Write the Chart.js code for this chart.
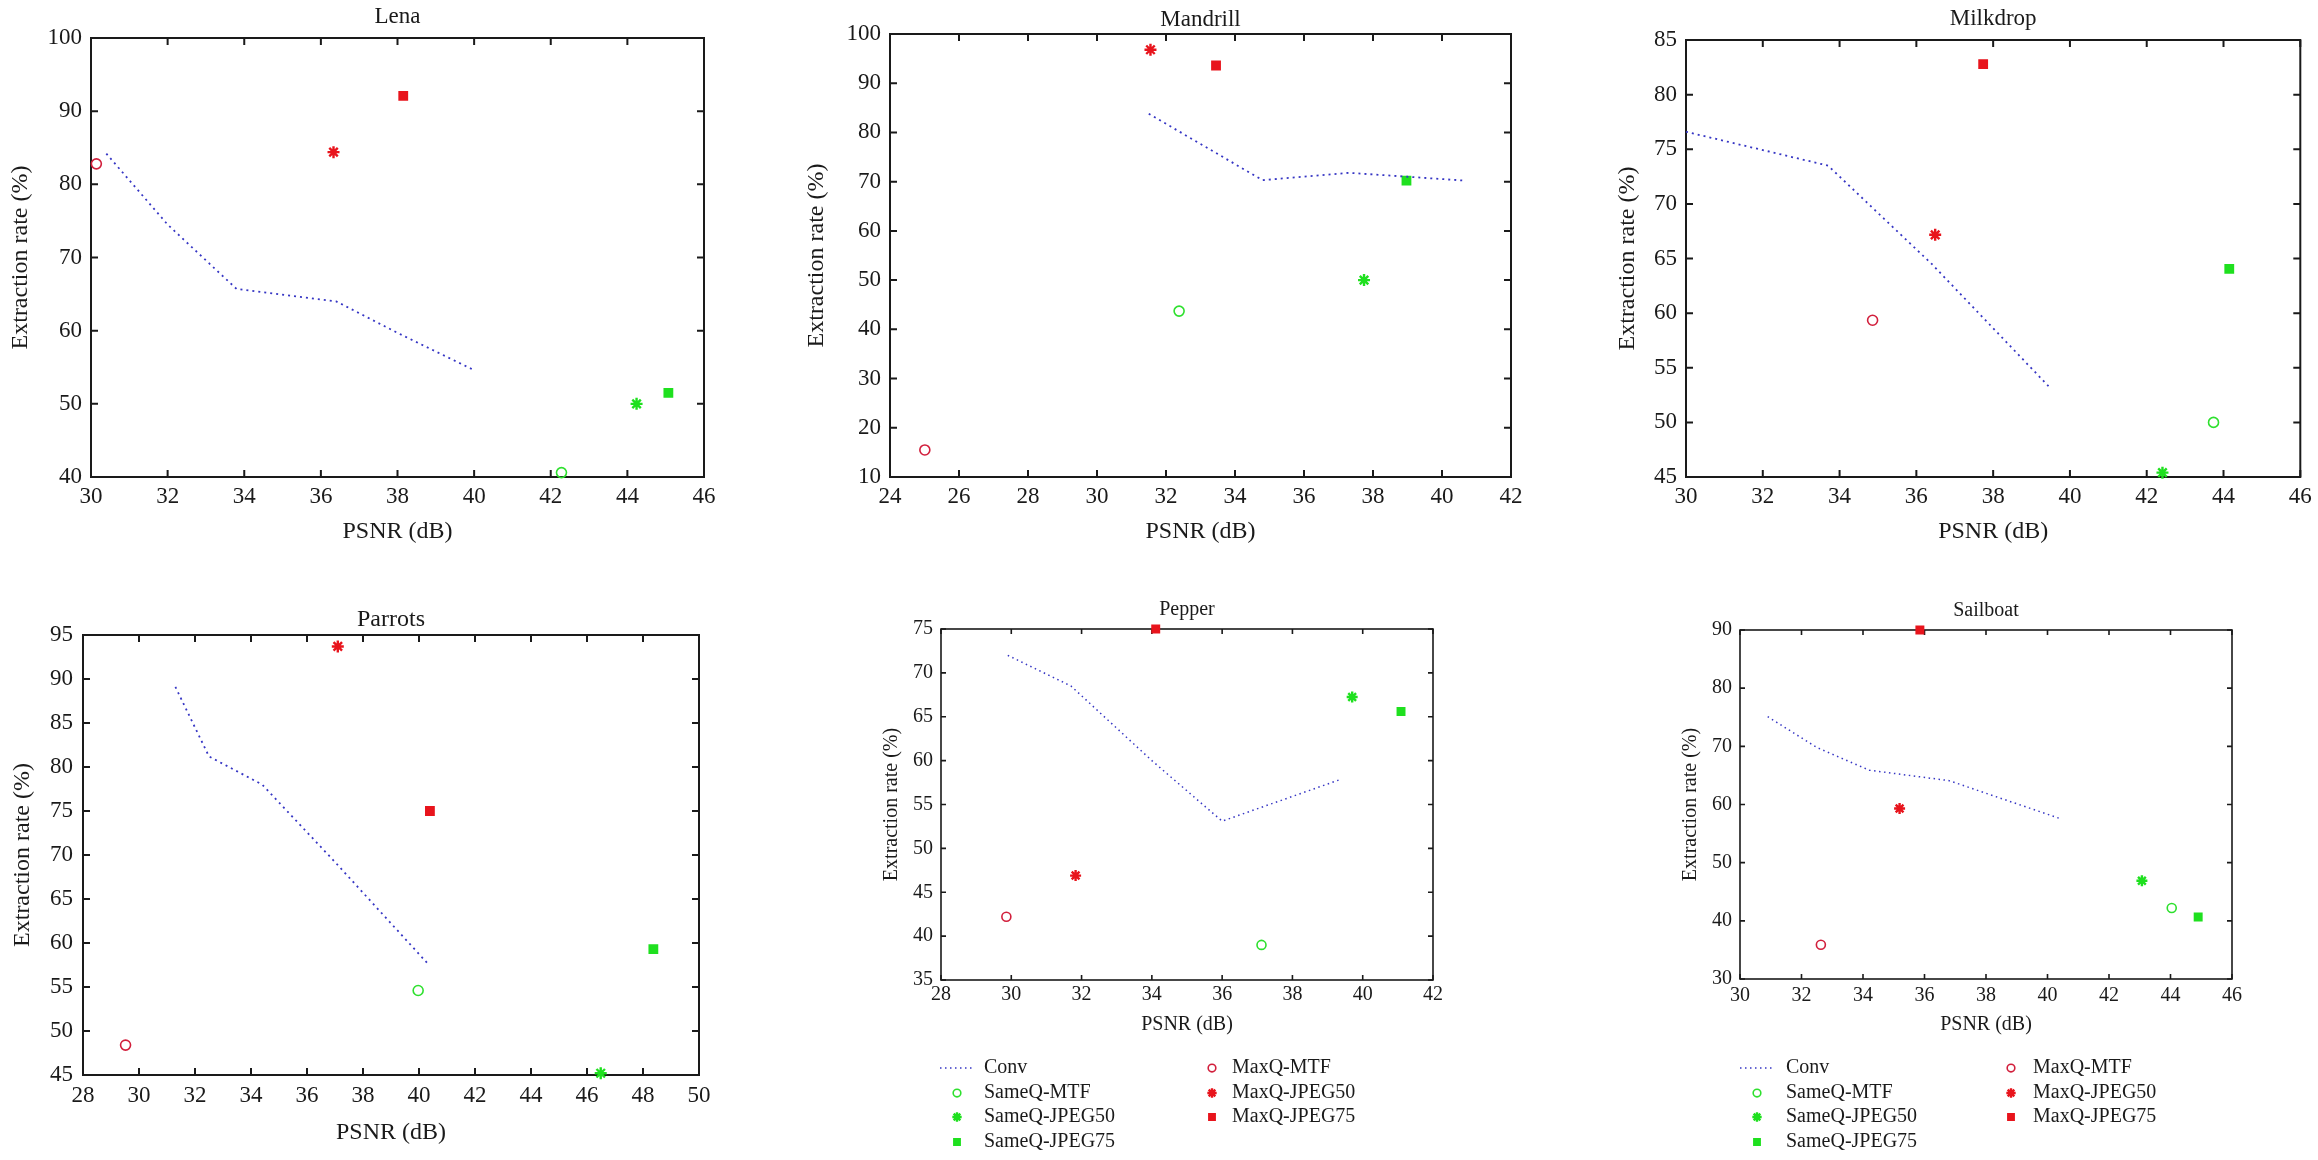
<!DOCTYPE html>
<html>
<head>
<meta charset="utf-8">
<title>Extraction rate vs PSNR</title>
<script src="https://cdn.jsdelivr.net/npm/chart.js"></script>
<style>
  html, body { margin: 0; padding: 0; background: #fff; overflow: hidden; }
  #page { position: relative; width: 2318px; height: 1160px; }
  #page canvas { position: absolute; }
</style>
</head>
<body>
<div id="page"></div>
<script>
// series shown in every panel (legend order: left column 0-3, right column 4-6)
const seriesNames = ['Conv', 'SameQ-MTF', 'SameQ-JPEG50', 'SameQ-JPEG75', 'MaxQ-MTF', 'MaxQ-JPEG50', 'MaxQ-JPEG75'];

// Conv curve per image: PSNR (dB) and extraction rate (%)
const lenaConvPsnr = [30.4, 32.0, 33.8, 36.4, 38.0, 40.0];
const lenaConvRate = [84.2, 74.5, 65.7, 64.0, 59.7, 54.6];
const mandrillConvPsnr = [31.5, 34.8, 37.3, 39.0, 40.7];
const mandrillConvRate = [83.8, 70.3, 71.8, 71.0, 70.2];
const milkdropConvPsnr = [30.0, 33.7, 36.4, 39.5];
const milkdropConvRate = [76.6, 73.5, 64.5, 53.1];
const parrotsConvPsnr = [31.3, 32.5, 34.4, 37.0, 40.3];
const parrotsConvRate = [89.1, 81.2, 78.0, 69.2, 57.7];
const pepperConvPsnr = [29.9, 31.7, 34.0, 36.0, 39.4];
const pepperConvRate = [72.0, 68.5, 60.0, 53.1, 57.9];
const sailboatConvPsnr = [30.9, 32.5, 34.2, 36.8, 40.4];
const sailboatConvRate = [75.1, 69.8, 65.9, 64.1, 57.6];

// single results, in seriesNames order without Conv
// SameQ-MTF, SameQ-JPEG50, SameQ-JPEG75, MaxQ-MTF, MaxQ-JPEG50, MaxQ-JPEG75
const lenaPsnr = [42.28, 44.24, 45.07, 30.14, 36.33, 38.15];
const lenaRate = [40.6, 50.0, 51.5, 82.8, 84.4, 92.1];
const mandrillPsnr = [32.38, 37.74, 38.97, 25.01, 31.55, 33.45];
const mandrillRate = [43.7, 50.0, 70.2, 15.5, 96.8, 93.6];
const milkdropPsnr = [43.74, 42.41, 44.15, 34.86, 36.49, 37.74];
const milkdropRate = [50.0, 45.4, 64.05, 59.35, 67.17, 82.8];
const parrotsPsnr = [39.97, 46.49, 48.37, 29.52, 37.1, 40.39];
const parrotsRate = [54.6, 45.2, 59.3, 48.4, 93.7, 75.0];
const pepperPsnr = [37.12, 39.7, 41.09, 29.86, 31.83, 34.11];
const pepperRate = [39.0, 67.25, 65.6, 42.2, 46.9, 75.0];
const sailboatPsnr = [44.04, 43.07, 44.9, 32.63, 35.19, 35.85];
const sailboatRate = [42.2, 46.9, 40.65, 35.9, 59.3, 90.0];

// axis ticks: [min, max, step]
const lenaXTicks = [30, 46, 2], lenaYTicks = [40, 100, 10];
const mandrillXTicks = [24, 42, 2], mandrillYTicks = [10, 100, 10];
const milkdropXTicks = [30, 46, 2], milkdropYTicks = [45, 85, 5];
const parrotsXTicks = [28, 50, 2], parrotsYTicks = [45, 95, 5];
const pepperXTicks = [28, 42, 2], pepperYTicks = [35, 75, 5];
const sailboatXTicks = [30, 46, 2], sailboatYTicks = [30, 90, 10];

const styles = [
  { color: '#3636c4' },
  { color: '#2ee02e', point: 'circle', fill: false },
  { color: '#1fe01f', point: 'star' },
  { color: '#1fe01f', point: 'rect', fill: true },
  { color: '#d21f3c', point: 'circle', fill: false },
  { color: '#e8141c', point: 'star' },
  { color: '#e8141c', point: 'rect', fill: true }
];

Chart.defaults.font.family = '"Liberation Serif", "Times New Roman", serif';
Chart.defaults.color = '#1a1a1a';

const page = document.getElementById('page');

function frame(tick, width) {
  return {
    id: 'frame',
    beforeDatasetsDraw(chart) {
      const { ctx, chartArea: a, scales: { x, y } } = chart;
      ctx.save();
      ctx.strokeStyle = '#1a1a1a';
      ctx.lineWidth = width;
      ctx.setLineDash([]);
      ctx.beginPath();
      x.ticks.forEach(t => {
        const px = x.getPixelForValue(t.value);
        ctx.moveTo(px, a.bottom); ctx.lineTo(px, a.bottom - tick);
        ctx.moveTo(px, a.top); ctx.lineTo(px, a.top + tick);
      });
      y.ticks.forEach(t => {
        const py = y.getPixelForValue(t.value);
        ctx.moveTo(a.left, py); ctx.lineTo(a.left + tick, py);
        ctx.moveTo(a.right, py); ctx.lineTo(a.right - tick, py);
      });
      ctx.stroke();
      ctx.strokeRect(a.left, a.top, a.right - a.left, a.bottom - a.top);
      ctx.restore();
    }
  };
}

// two-column legend under the panel (column-first like the original)
function columnLegend(g, size, shrink) {
  return {
    id: 'columnLegend',
    afterDraw(chart) {
      const ctx = chart.ctx;
      ctx.save();
      ctx.font = size + 'px "Liberation Serif", serif';
      ctx.textBaseline = 'middle';
      chart.data.datasets.forEach((ds, i) => {
        const col = i < 4 ? 0 : 1;
        const y = g.rows[i < 4 ? i : i - 4];
        if (ds.showLine) {
          ctx.strokeStyle = ds.borderColor;
          ctx.lineWidth = ds.borderWidth;
          ctx.setLineDash(ds.borderDash);
          ctx.beginPath();
          ctx.moveTo(g.sample[0], y);
          ctx.lineTo(g.sample[1], y);
          ctx.stroke();
          ctx.setLineDash([]);
        } else {
          ctx.strokeStyle = ds.pointBorderColor;
          ctx.fillStyle = ds.pointBackgroundColor;
          ctx.lineWidth = ds.pointBorderWidth;
          Chart.helpers.drawPoint(ctx, {
            pointStyle: ds.pointStyle, rotation: 0,
            radius: ds.pointRadius * shrink, borderWidth: ds.pointBorderWidth
          }, g.marker[col], y);
        }
        ctx.fillStyle = '#1a1a1a';
        ctx.fillText(ds.label, g.text[col], y);
      });
      ctx.restore();
    }
  };
}

function plot(title, spec, convX, convY, ptsX, ptsY, xt, yt) {
  const [L, T, R, B] = spec.box;
  const f = spec.font;
  const lhT = f.title * 1.2, lhA = f.axis * 1.2, lhK = f.tick * 1.2;
  const left = Math.round(spec.yTitleX - lhA / 2);
  const top = Math.round(spec.titleY - lhT / 2);
  const yW = L - left;
  const xH = spec.xTitleY - B + lhA / 2;
  const width = Math.round(R + spec.padR - left);
  const height = Math.round((spec.bottom || Math.ceil(B + xH)) - top);
  const padR = width - (R - left);
  const padB = height - (B - top) - xH;

  const canvas = document.createElement('canvas');
  canvas.width = width;
  canvas.height = height;
  canvas.style.left = left + 'px';
  canvas.style.top = top + 'px';
  canvas.style.width = width + 'px';
  canvas.style.height = height + 'px';
  page.appendChild(canvas);

  const datasets = seriesNames.map((name, i) => {
    const st = styles[i];
    if (i === 0) {
      return {
        label: name,
        data: convX.map((x, k) => ({ x, y: convY[k] })),
        showLine: true, borderColor: st.color, borderWidth: spec.lineW,
        borderDash: spec.dash, pointRadius: 0, tension: 0, clip: false
      };
    }
    return {
      label: name,
      data: [{ x: ptsX[i - 1], y: ptsY[i - 1] }],
      pointStyle: st.point,
      pointRadius: spec.marker[st.point],
      pointBorderWidth: st.point === 'star' ? 2.4 : 1.6,
      pointBorderColor: st.color,
      pointBackgroundColor: st.fill ? st.color : 'rgba(0,0,0,0)',
      clip: false
    };
  });

  const plugins = [frame(spec.tick, spec.frameW)];
  if (spec.legend) {
    const g = spec.legend;
    plugins.push(columnLegend({
      rows: g.rows.map(v => v - top),
      sample: g.sample.map(v => v - left),
      marker: g.marker.map(v => v - left),
      text: g.text.map(v => v - left)
    }, g.size, 0.85));
  }

  new Chart(canvas, {
    type: 'scatter',
    data: { datasets },
    plugins,
    options: {
      responsive: false,
      animation: false,
      devicePixelRatio: 1,
      layout: { padding: { left: 0, top: 0, right: padR, bottom: padB } },
      plugins: {
        legend: { display: false },
        tooltip: { enabled: false },
        title: {
          display: true, text: title, fullSize: false, color: '#1a1a1a',
          font: { size: f.title, weight: 'normal', lineHeight: 1.2 },
          padding: { top: 0, bottom: T - top - lhT }
        }
      },
      scales: {
        x: {
          type: 'linear', min: xt[0], max: xt[1],
          ticks: { stepSize: xt[2], padding: spec.tickY - B - lhK / 2, maxRotation: 0, autoSkip: false, font: { size: f.tick } },
          grid: { display: false, drawTicks: false },
          border: { display: false },
          title: { display: true, text: 'PSNR (dB)', padding: 0, font: { size: f.axis } },
          afterFit: s => { s.height = xH; }
        },
        y: {
          type: 'linear', min: yt[0], max: yt[1],
          ticks: { stepSize: yt[2], padding: spec.yPad, autoSkip: false, font: { size: f.tick } },
          grid: { display: false, drawTicks: false },
          border: { display: false },
          title: { display: true, text: 'Extraction rate (%)', padding: 0, font: { size: f.axis } },
          afterFit: s => { s.width = yW; }
        }
      }
    }
  });
}

const big = { title: 23, tick: 23, axis: 24 };
const bigMarks = { circle: 5, star: 6, rect: 5.8 };
const small = { title: 20, tick: 20, axis: 20 };
const smallMarks = { circle: 4.5, star: 5.5, rect: 5.2 };
const rowsY = [1068, 1093, 1117, 1142];

plot('Lena', {
  box: [91, 38, 704, 477], titleY: 17, yTitleX: 20, xTitleY: 532, tickY: 497, yPad: 9,
  font: big, tick: 7, frameW: 2, padR: 30, lineW: 1.8, dash: [2, 4], marker: bigMarks
}, lenaConvPsnr, lenaConvRate, lenaPsnr, lenaRate, lenaXTicks, lenaYTicks);

plot('Mandrill', {
  box: [890, 34, 1511, 477], titleY: 20, yTitleX: 816, xTitleY: 532, tickY: 497, yPad: 9,
  font: big, tick: 7, frameW: 2, padR: 30, lineW: 1.8, dash: [2, 4], marker: bigMarks
}, mandrillConvPsnr, mandrillConvRate, mandrillPsnr, mandrillRate, mandrillXTicks, mandrillYTicks);

plot('Milkdrop', {
  box: [1686, 40, 2303, 477], titleY: 19, yTitleX: 1627, xTitleY: 532, tickY: 497, yPad: 9,
  font: big, tick: 7, frameW: 2, padR: 15, lineW: 1.8, dash: [2, 4], marker: bigMarks
}, milkdropConvPsnr, milkdropConvRate, milkdropPsnr, milkdropRate, milkdropXTicks, milkdropYTicks);

plot('Parrots', {
  box: [83, 635, 699, 1075], titleY: 619, yTitleX: 22, xTitleY: 1133, tickY: 1096, yPad: 10,
  font: { title: 24, tick: 23, axis: 24 }, tick: 7, frameW: 2, padR: 30, lineW: 1.8, dash: [2, 4], marker: bigMarks
}, parrotsConvPsnr, parrotsConvRate, parrotsPsnr, parrotsRate, parrotsXTicks, parrotsYTicks);

plot('Pepper', {
  box: [941, 629, 1433, 980], titleY: 610, yTitleX: 892, xTitleY: 1025, tickY: 995, yPad: 8,
  font: small, tick: 5, frameW: 1.6, padR: 30, lineW: 1.5, dash: [1.5, 3.5], marker: smallMarks,
  bottom: 1160,
  legend: { rows: rowsY, sample: [940, 973], marker: [957, 1212], text: [984, 1232], size: 20 }
}, pepperConvPsnr, pepperConvRate, pepperPsnr, pepperRate, pepperXTicks, pepperYTicks);

plot('Sailboat', {
  box: [1740, 630, 2232, 979], titleY: 611, yTitleX: 1691, xTitleY: 1025, tickY: 996, yPad: 8,
  font: small, tick: 5, frameW: 1.6, padR: 30, lineW: 1.5, dash: [1.5, 3.5], marker: smallMarks,
  bottom: 1160,
  legend: { rows: rowsY, sample: [1740, 1773], marker: [1757, 2011], text: [1786, 2033], size: 20 }
}, sailboatConvPsnr, sailboatConvRate, sailboatPsnr, sailboatRate, sailboatXTicks, sailboatYTicks);
</script>
</body>
</html>
